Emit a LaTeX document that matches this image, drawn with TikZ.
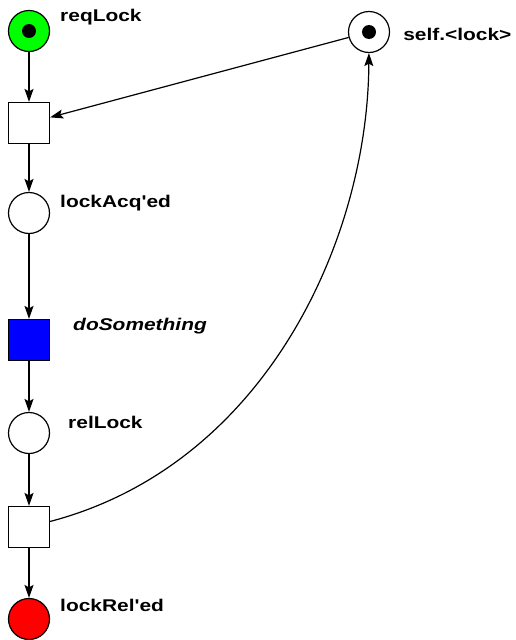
\documentclass[tikz,border=0pt]{standalone}
\usepackage{fontspec}
\setmainfont{Liberation Sans}
\usetikzlibrary{arrows.meta}

\newcommand{\tok}[1]{\fill (#1) circle (7pt);}

\begin{document}
\begin{tikzpicture}[x=1pt,y=-1pt,
    place/.style={circle,draw,line width=1.2pt,minimum size=41pt,inner sep=0pt},
    trans/.style={rectangle,draw,line width=1.2pt,minimum size=41pt,inner sep=0pt},
    lbl/.style={anchor=base west,inner sep=0pt,font=\bfseries\fontsize{17}{20}\selectfont,xscale=1.23,transform shape},
    arc/.style={-{Stealth[length=13pt,width=9pt,inset=2.5pt]},line width=1.2pt}]
    \useasboundingbox (0,0) rectangle (516,640);
    \node[place,fill=green] (req) at (29,31) {};
    \tok{req}
    \node[lbl] at (60,21) {reqLock};
    \node[trans] (t1) at (29,123) {};
    \node[place] (acq) at (29,213) {};
    \node[lbl] at (60,207) {lockAcq\textquotesingle ed};
    \node[trans,fill=blue] (work) at (29,340) {};
    \node[lbl,font=\bfseries\itshape\fontsize{17}{20}\selectfont] at (73,330) {doSomething};
    \node[place] (rel) at (29,433) {};
    \node[lbl] at (68,428) {relLock};
    \node[trans] (t3) at (29,527) {};
    \node[place,fill=red] (done) at (29,619) {};
    \node[lbl] at (60,611) {lockRel\textquotesingle ed};
    \node[place] (lock) at (369,32) {};
    \tok{lock}
    \node[lbl] at (403,40) {self.<lock>};
    \draw[arc] (req) -- (t1);
    \draw[arc] (t1) -- (acq);
    \draw[arc] (acq) -- (work);
    \draw[arc] (work) -- (rel);
    \draw[arc] (rel) -- (t3);
    \draw[arc] (t3) -- (done);
    \draw[arc] (lock) -- (t1);
    \draw[arc] (t3) .. controls (265,465) and (368,240) .. (lock);
\end{tikzpicture}
\end{document}
